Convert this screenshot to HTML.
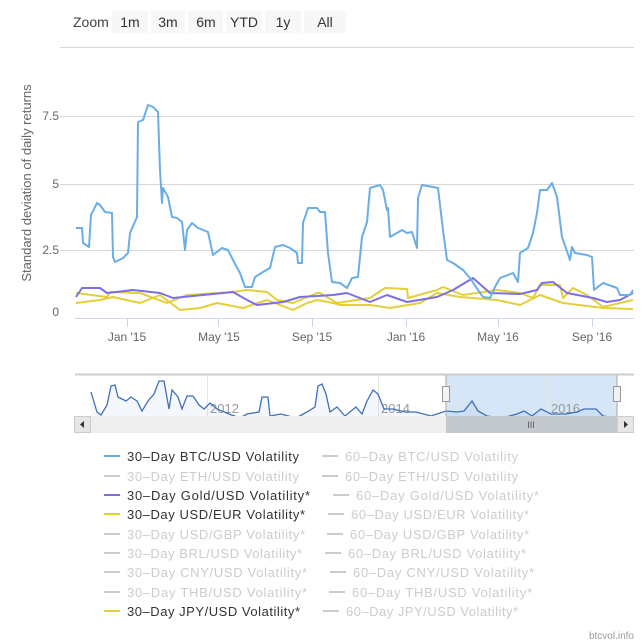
<!DOCTYPE html>
<html><head><meta charset="utf-8"><style>
body{margin:0;background:#fff}
svg{display:block;font-family:"Liberation Sans","DejaVu Sans",sans-serif}
</style></head><body>
<svg width="644" height="644" viewBox="0 0 644 644" xmlns="http://www.w3.org/2000/svg">
<rect width="644" height="644" fill="#fff"/>
<!-- zoom buttons -->
<text x="73" y="27" font-size="14" fill="#444">Zoom</text>
<g fill="#f7f7f7">
<rect x="112" y="11" width="36" height="22"/><rect x="151" y="11" width="34" height="22"/><rect x="188" y="11" width="35" height="22"/><rect x="226" y="11" width="36" height="22"/><rect x="265" y="11" width="36" height="22"/><rect x="304" y="11" width="42" height="22"/>
</g>
<g font-size="14" fill="#333" text-anchor="middle">
<text x="130" y="27">1m</text><text x="168" y="27">3m</text><text x="206" y="27">6m</text><text x="244" y="27">YTD</text><text x="283" y="27">1y</text><text x="325" y="27">All</text>
</g>
<!-- grid -->
<g stroke="#d8d8d8" stroke-width="1">
<line x1="60" y1="47.5" x2="634" y2="47.5"/><line x1="60" y1="116.5" x2="634" y2="116.5"/><line x1="60" y1="184.5" x2="634" y2="184.5"/><line x1="60" y1="250.5" x2="634" y2="250.5"/>
</g>
<line x1="75" y1="318.5" x2="634" y2="318.5" stroke="#ccd6eb"/>
<g stroke="#ccd6eb"><line x1="127.5" y1="318" x2="127.5" y2="327"/><line x1="218.5" y1="318" x2="218.5" y2="327"/><line x1="312.5" y1="318" x2="312.5" y2="327"/><line x1="406.5" y1="318" x2="406.5" y2="327"/><line x1="498.5" y1="318" x2="498.5" y2="327"/><line x1="592.5" y1="318" x2="592.5" y2="327"/></g>
<g font-size="12" fill="#666" text-anchor="end">
<text x="59" y="120">7.5</text><text x="59" y="188">5</text><text x="59" y="254">2.5</text><text x="59" y="316">0</text>
</g>
<g font-size="12" fill="#666" text-anchor="middle">
<text x="127" y="341">Jan '15</text><text x="219" y="341">May '15</text><text x="312" y="341">Sep '15</text><text x="406" y="341">Jan '16</text><text x="498" y="341">May '16</text><text x="592" y="341">Sep '16</text>
</g>
<text transform="translate(31,183) rotate(-90)" font-size="13" fill="#666" text-anchor="middle">Standard deviation of daily returns</text>
<!-- series -->
<g fill="none" stroke-width="2" stroke-linejoin="round">
<polyline stroke="#e4cf3a" points="76,303 100,300 113,297 140,303 160,295 180,310 200,308 217,303 243,308 267,300 293,310 307,303 317,300 333,303 340,305 370,305 390,308 420,303 437,293 460,297 497,300 520,305 540,295 563,303 603,308 633,309"/>
<polyline stroke="#e4cf3a" points="76,293 107,297 110,292 140,293 167,303 187,295 233,292 247,290 267,292 277,300 293,303 317,293 320,293 337,303 370,298 385,288 407,289 408,298 437,290 443,287 463,295 497,290 520,293 533,298 540,285 560,285 563,298 573,288 587,295 603,307 620,303 633,300"/>
<polyline stroke="#7b6fe6" points="76,297 82,288 100,288 107,293 133,290 160,293 173,298 233,292 247,300 257,305 283,302 300,297 333,295 347,293 370,302 387,295 407,302 437,297 453,290 473,278 490,293 520,294 537,290 542,283 553,282 567,293 593,298 607,302 620,300 633,293"/>
<polyline stroke="#6aaee8" points="76,228 82,228 83,243 89,247 91,215 97,203 100,205 105,212 112,213 113,257 115,262 123,258 128,253 130,233 137,217 138,122 143,120 148,105 153,107 158,112 160,170 162,203 163,188 168,197 172,217 177,218 182,222 185,250 187,230 192,223 198,228 208,232 213,255 222,248 228,250 233,260 240,273 245,287 252,287 255,277 263,272 270,268 275,247 283,245 290,248 297,253 298,263 302,263 303,223 308,208 317,208 320,212 325,212 328,253 332,282 340,283 347,288 352,278 358,277 362,237 367,222 370,188 380,185 383,190 387,210 388,208 390,237 402,230 407,233 412,232 417,248 418,198 422,185 433,187 438,188 443,230 447,260 453,263 463,270 470,278 478,290 483,297 490,298 495,287 500,278 513,273 518,282 520,253 528,248 533,233 537,213 540,190 547,190 552,183 557,197 562,237 570,260 572,247 575,253 587,255 592,257 594,290 603,283 617,288 620,295 630,295 633,290"/>
</g>
<!-- navigator -->
<rect x="446" y="375" width="171" height="41" fill="#d6e6f7"/>
<line x1="75" y1="374.5" x2="634" y2="374.5" stroke="#ccc" stroke-width="2"/>
<g stroke="#e6e6e6"><line x1="207.5" y1="375" x2="207.5" y2="416"/><line x1="378.5" y1="375" x2="378.5" y2="416"/><line x1="548.5" y1="375" x2="548.5" y2="416"/></g>
<g font-size="13" fill="#999"><text x="210" y="413">2012</text><text x="381" y="413">2014</text><text x="551" y="413">2016</text></g>
<polygon fill="#3e71b8" fill-opacity="0.06" points="91,392 97,412 101,415 107,405 111,386 115,385 118,397 126,401 131,397 137,401 142,411 148,401 154,394 159,381 164,381 169,409 172,390 178,397 182,409 187,396 193,396 199,405 204,409 210,403 217,409 229,414 240,418 247,414 259,412 262,397 268,397 270,416 281,414 296,418 307,412 315,407 318,386 322,384 326,394 330,412 337,407 345,416 356,407 362,414 367,401 373,390 378,394 384,409 393,409 405,412 416,412 431,416 446,411 457,412 464,411 472,401 478,411 487,416 502,418 517,414 524,411 532,416 541,409 551,414 566,414 577,412 584,409 596,409 603,416 620,418 620,416 91,416"/>
<polyline fill="none" stroke="#3e71b8" stroke-width="1.3" points="91,392 97,412 101,415 107,405 111,386 115,385 118,397 126,401 131,397 137,401 142,411 148,401 154,394 159,381 164,381 169,409 172,390 178,397 182,409 187,396 193,396 199,405 204,409 210,403 217,409 229,414 240,418 247,414 259,412 262,397 268,397 270,416 281,414 296,418 307,412 315,407 318,386 322,384 326,394 330,412 337,407 345,416 356,407 362,414 367,401 373,390 378,394 384,409 393,409 405,412 416,412 431,416 446,411 457,412 464,411 472,401 478,411 487,416 502,418 517,414 524,411 532,416 541,409 551,414 566,414 577,412 584,409 596,409 603,416 618,418"/>
<line x1="446" y1="375" x2="446" y2="416" stroke="#aaa"/><line x1="617" y1="375" x2="617" y2="416" stroke="#aaa"/>
<rect x="442.5" y="386.5" width="7" height="15" fill="#f2f2f2" stroke="#999"/><rect x="613.5" y="386.5" width="7" height="15" fill="#f2f2f2" stroke="#999"/>
<!-- scrollbar -->
<rect x="74" y="416" width="560" height="17" fill="#eee"/>
<rect x="446" y="416" width="171" height="17" fill="#c4c8cf"/>
<text x="531" y="428" font-size="9" fill="#555" text-anchor="middle">III</text>
<rect x="74.5" y="416.5" width="16" height="16" fill="#e6e6e6" stroke="#ccc"/>
<rect x="617.5" y="416.5" width="16" height="16" fill="#e6e6e6" stroke="#ccc"/>
<polygon points="84,421 84,428 80,424.5" fill="#333"/><polygon points="624,421 624,428 628,424.5" fill="#333"/>
<!-- legend -->
<g stroke-width="2">
<line x1="104" y1="456" x2="120" y2="456" stroke="#6aaee8"/>
<line x1="104" y1="476" x2="120" y2="476" stroke="#ccc"/>
<line x1="104" y1="495" x2="120" y2="495" stroke="#7b6fe6"/>
<line x1="104" y1="514" x2="120" y2="514" stroke="#e4cf3a"/>
<line x1="104" y1="534" x2="120" y2="534" stroke="#ccc"/>
<line x1="104" y1="553" x2="120" y2="553" stroke="#ccc"/>
<line x1="104" y1="572" x2="120" y2="572" stroke="#ccc"/>
<line x1="104" y1="592" x2="120" y2="592" stroke="#ccc"/>
<line x1="104" y1="611" x2="120" y2="611" stroke="#e4cf3a"/>
<line x1="322" y1="456" x2="338" y2="456" stroke="#ccc"/>
<line x1="322" y1="476" x2="338" y2="476" stroke="#ccc"/>
<line x1="333" y1="495" x2="349" y2="495" stroke="#ccc"/>
<line x1="328" y1="514" x2="344" y2="514" stroke="#ccc"/>
<line x1="327" y1="534" x2="343" y2="534" stroke="#ccc"/>
<line x1="325" y1="553" x2="341" y2="553" stroke="#ccc"/>
<line x1="330" y1="572" x2="346" y2="572" stroke="#ccc"/>
<line x1="329" y1="592" x2="345" y2="592" stroke="#ccc"/>
<line x1="323" y1="611" x2="339" y2="611" stroke="#ccc"/>
</g>
<g font-size="13" lengthAdjust="spacingAndGlyphs">
<text x="127" y="461" fill="#333" textLength="172">30–Day BTC/USD Volatility</text>
<text x="127" y="481" fill="#ccc" textLength="172">30–Day ETH/USD Volatility</text>
<text x="127" y="500" fill="#333" textLength="183">30–Day Gold/USD Volatility*</text>
<text x="127" y="519" fill="#333" textLength="178">30–Day USD/EUR Volatility*</text>
<text x="127" y="539" fill="#ccc" textLength="178">30–Day USD/GBP Volatility*</text>
<text x="127" y="558" fill="#ccc" textLength="175">30–Day BRL/USD Volatility*</text>
<text x="127" y="577" fill="#ccc" textLength="180">30–Day CNY/USD Volatility*</text>
<text x="127" y="597" fill="#ccc" textLength="180">30–Day THB/USD Volatility*</text>
<text x="127" y="616" fill="#333" textLength="173">30–Day JPY/USD Volatility*</text>
<text x="345" y="461" fill="#ccc" textLength="173">60–Day BTC/USD Volatility</text>
<text x="345" y="481" fill="#ccc" textLength="173">60–Day ETH/USD Volatility</text>
<text x="356" y="500" fill="#ccc" textLength="183">60–Day Gold/USD Volatility*</text>
<text x="351" y="519" fill="#ccc" textLength="178">60–Day USD/EUR Volatility*</text>
<text x="350" y="539" fill="#ccc" textLength="179">60–Day USD/GBP Volatility*</text>
<text x="348" y="558" fill="#ccc" textLength="178">60–Day BRL/USD Volatility*</text>
<text x="353" y="577" fill="#ccc" textLength="181">60–Day CNY/USD Volatility*</text>
<text x="352" y="597" fill="#ccc" textLength="180">60–Day THB/USD Volatility*</text>
<text x="346" y="616" fill="#ccc" textLength="172">60–Day JPY/USD Volatility*</text>
</g>
<text x="634" y="639" font-size="10" fill="#999" text-anchor="end">btcvol.info</text>
</svg>
</body></html>
